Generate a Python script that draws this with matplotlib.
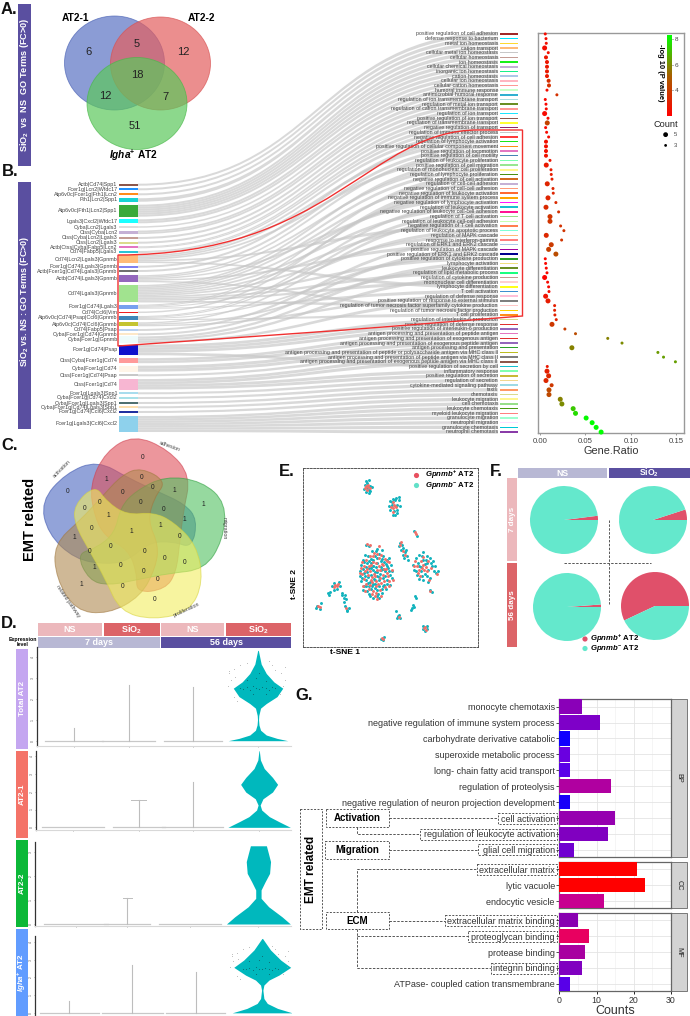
#Multi panel figure: venns, alluvial, dot plot, violins, t-SNE, pies, bars
import numpy as np
import matplotlib
matplotlib.use('Agg')
import matplotlib.pyplot as plt
from matplotlib.patches import PathPatch, Ellipse, Rectangle
from matplotlib.path import Path
from matplotlib.transforms import Affine2D
from matplotlib.colors import LinearSegmentedColormap

plt.rcParams['font.family'] = ['Liberation Sans', 'DejaVu Sans']
plt.rcParams['mathtext.fontset'] = 'custom'
plt.rcParams['mathtext.rm'] = 'Liberation Sans'
plt.rcParams['mathtext.it'] = 'Liberation Sans:italic'
plt.rcParams['mathtext.bf'] = 'Liberation Sans:bold'
plt.rcParams['mathtext.bfit'] = 'Liberation Sans:italic:bold'

W, H = 690, 1016
PURPLE = '#5a4fa0'
LILAC = '#b8b8d4'
PINK = '#ecb8bc'
CORAL = '#dc6468'

# ---- panel A
venn_a_counts = [6, 5, 12, 18, 12, 7, 51]

# ---- panel B left side: gene sets, their size on the stratum, colours
gene_sets = ['Actb|Cd74|Spp1', 'Fcer1g|Lcn2|Wfdc17', 'Atp6v0c|Fcer1g|Fth1|Lcn2', 'Fth1|Lcn2|Spp1',
             'Atp6v0c|Fth1|Lcn2|Spp1', 'Lgals3|Cxcl2|Wfdc17', 'Cyba|Lcn2|Lgals3', 'Ctss|Cyba|Lcn2',
             'Ctss|Cyba|Lcn2|Lgals3', 'Ctss|Lcn2|Lgals3', 'Actb|Ctss|Cyba|Fabp5|Lcn2', 'Cd74|Fabp5|Lgals3',
             'Cd74|Lcn2|Lgals3|Gpnmb', 'Fcer1g|Cd74|Lgals3|Gpnmb', 'Actb|Fcer1g|Cd74|Lgals3|Gpnmb',
             'Actb|Cd74|Lgals3|Gpnmb', 'Cd74|Lgals3|Gpnmb', 'Fcer1g|Cd74|Lgals3', 'Cd74|Ccl6|Vim',
             'Atp6v0c|Cd74|Psap|Ccl6|Gpnmb', 'Atp6v0c|Cd74|Ccl6|Gpnmb', 'Cd74|Fabp5|Psap',
             'Cyba|Fcer1g|Cd74|Gpnmb', 'Cyba|Fcer1g|Gpnmb', 'Fcer1g|Cd74|Psap', 'Ctss|Cyba|Fcer1g|Cd74',
             'Cyba|Fcer1g|Cd74', 'Ctss|Fcer1g|Cd74|Psap', 'Ctss|Fcer1g|Cd74', 'Fcer1g|Lgals3|Spp1',
             'Cyba|Fcer1g|Cd74|Cxcl2', 'Cyba|Fcer1g|Lgals3|Spp1', 'Cyba|Fcer1g|Cd74|Lgals3|Spp1',
             'Fcer1g|Cd74|Ccl6|Cxcl2', 'Fcer1g|Lgals3|Ccl6|Cxcl2']
gene_set_colors = ['#8c564b', '#1e90ff', '#ff8c1a', '#17d4d4', '#3aaa3a', '#1affff', '#dddddd', '#c5b0d5',
                   '#c49c94', '#dbdb8d', '#e377c2', '#2ac4d4', '#ffbb78', '#8080f0', '#707070', '#9467bd',
                   '#a1e38f', '#76a0f0', '#ee2020', '#3f86b8', '#c4c430', '#b6cff0', '#fde8c8', '#eefbfb',
                   '#1010cc', '#ff9a9a', '#fff5e8', '#c8c8c8', '#f7b6d2', '#a8dced', '#a8e0e8', '#507070',
                   '#fde0b0', '#2030a0', '#8ed1ec']
gene_set_y = [184.7, 189.3, 194.3, 200, 210.7, 221.3, 227, 232.3, 238, 242.7, 247.3, 252, 259, 266.7, 271,
              278.7, 293.7, 306.7, 312.3, 318, 324.3, 330, 334.3, 339.7, 350, 360.7, 368.7, 375.3, 384.3,
              393.3, 398, 403, 407.3, 412, 424]
gene_set_h = [2, 2, 2, 3.5, 12, 4, 1.5, 3.5, 2, 2, 2, 2, 8, 2, 2, 7, 17.5, 4, 1.5, 4, 4, 2, 2, 6.5, 10.5,
              5, 6, 2, 10.5, 2, 2, 2, 2, 2, 16]

# ---- panel B right side / dot plot
go_terms = ['positive regulation of cell adhesion', 'defense response to bacterium', 'metal ion homeostasis',
            'cation transport', 'cellular metal ion homeostasis', 'cellular homeostasis', 'ion homeostasis',
            'cellular chemical homeostasis', 'inorganic ion homeostasis', 'cation homeostasis',
            'cellular ion homeostasis', 'cellular cation homeostasis', 'humoral immune response',
            'antimicrobial humoral response', 'regulation of ion transmembrane transport',
            'regulation of metal ion transport', 'regulation of cation transmembrane transport',
            'regulation of ion transport', 'positive regulation of ion transport',
            'regulation of transmembrane transport', 'negative regulation of transport',
            'regulation of immune effector process', 'negative regulation of cell adhesion',
            'regulation of lymphocyte activation', 'positive regulation of cellular component movement',
            'positive regulation of locomotion', 'positive regulation of cell motility',
            'regulation of leukocyte proliferation', 'positive regulation of cell migration',
            'regulation of mononuclear cell proliferation', 'regulation of lymphocyte proliferation',
            'negative regulation of cell activation', 'regulation of cell-cell adhesion',
            'negative regulation of cell-cell adhesion', 'negative regulation of leukocyte activation',
            'negative regulation of immune system process', 'negative regulation of lymphocyte activation',
            'regulation of leukocyte activation', 'negative regulation of leukocyte cell-cell adhesion',
            'regulation of T cell activation', 'regulation of leukocyte cell-cell adhesion',
            'negative regulation of T cell activation', 'regulation of leukocyte apoptotic process',
            'regulation of MAPK cascade', 'response to interferon-gamma', 'regulation of ERK1 and ERK2 cascade',
            'positive regulation of MAPK cascade', 'positive regulation of ERK1 and ERK2 cascade',
            'positive regulation of cytokine production', 'lymphocyte activation', 'leukocyte differentiation',
            'regulation of lipid metabolic process', 'regulation of cytokine production',
            'mononuclear cell differentiation', 'lymphocyte differentiation', 'T cell activation',
            'regulation of defense response', 'positive regulation of response to external stimulus',
            'regulation of tumor necrosis factor superfamily cytokine production',
            'regulation of tumor necrosis factor production', 'T cell proliferation',
            'regulation of interleukin-6 production', 'positive regulation of defense response',
            'positive regulation of interleukin-6 production', 'antigen processing and presentation of peptide antigen',
            'antigen processing and presentation of exogenous antigen',
            'antigen processing and presentation of exogenous peptide antigen', 'antigen processing and presentation',
            'antigen processing and presentation of peptide or polysaccharide antigen via MHC class II',
            'antigen processing and presentation of peptide antigen via MHC class II',
            'antigen processing and presentation of exogenous peptide antigen via MHC class II',
            'positive regulation of secretion by cell', 'inflammatory response', 'positive regulation of secretion',
            'regulation of secretion', 'cytokine-mediated signaling pathway', 'taxis', 'chemotaxis',
            'leukocyte migration', 'cell chemotaxis', 'leukocyte chemotaxis', 'myeloid leukocyte migration',
            'granulocyte migration', 'neutrophil migration', 'granulocyte chemotaxis', 'neutrophil chemotaxis']
go_colors = ['#a02828', '#00e5ff', '#ffd92f', '#ffbb78', '#c8c8c8', '#c49c94', '#19f019', '#c5b0d5', '#19f08c',
             '#aec7e8', '#ffb6c1', '#ff9896', '#c8ffc8', '#30b0d0', '#a8dde0', '#6b8e23', '#ff9896', '#1ce6ff',
             '#8c564b', '#ffff33', '#8b2a6b', '#c8c8c8', '#ff3b3b', '#19e619', '#ff8c1a', '#e377c2', '#4682b4',
             '#7fffb0', '#98e690', '#fff68f', '#4a8f10', '#d2691e', '#c5b0d5', '#ff9a7a', '#ff6a33', '#ffa500',
             '#ff19ff', '#19c0d0', '#ff1493', '#98df8a', '#c8ffb0', '#ff7f50', '#7fffd4', '#ffbb78', '#ff7f7f',
             '#aec7e8', '#a000a0', '#000090', '#2ca02c', '#f0e080', '#6b8e23', '#19ff80', '#c49c94', '#ffd0d0',
             '#ffff19', '#3f8fd0', '#ffc0d8', '#7f7f7f', '#ffc8c8', '#ffd000', '#ff8c1a', '#dbdb8d', '#e03030',
             '#9467bd', '#e377c2', '#e03030', '#9467bd', '#2ca02c', '#bcbd22', '#7f7f7f', '#8c564b', '#17becf',
             '#7fffb0', '#c8b838', '#f0d890', '#9edae5', '#ff9966', '#dbdb8d', '#fff68f', '#98df8a', '#4a9a10',
             '#ff7f7f', '#a0ffd0', '#ffe0ff', '#00c8d8', '#8a3ca8']
#index of the gene set each GO term is fed from
go_source = [0, 1, 2, 3, 4, 4, 4, 4, 4, 4, 5, 5, 6, 7, 7, 8, 9, 10, 10, 11, 11,
             12, 13, 12, 14, 15, 12, 16, 15, 16, 17, 16, 18, 17, 16, 15, 19, 16, 19, 20, 16,
             12, 17, 16, 21, 15, 22, 19, 16, 23, 20, 16, 23, 16, 12, 17, 20, 23, 16, 15, 19,
             24, 24, 24, 25, 25, 26, 26, 27, 28, 28,
             24, 28, 28, 29, 30, 31, 32, 33, 34, 34, 34, 34, 34, 34, 34]
gene_ratio = [.0058, .0066, .0069, .0051, .0091, .0066, .0077, .0077, .0077, .0077, .0095, .0099, .0077, .0186,
              .0058, .0066, .0069, .0051, .0088, .0080, .0062, .0073, .0095, .0066, .0066, .0066, .0066, .0110,
              .0069, .0121, .0124, .0132, .0080, .0143, .0146, .0088, .0175, .0066, .0205, .0110, .0110, .0227,
              .0263, .0069, .0238, .0124, .0095, .0175, .0058, .0062, .0069, .0077, .0051, .0084, .0095, .0099,
              .0062, .0088, .0161, .0161, .0164, .0179, .0132, .0274, .0391, .0746, .0903, .0351, .1298, .1360,
              .1491, .0080, .0077, .0095, .0066, .0128, .0099, .0099, .0223, .0241, .0365, .0391, .0508, .0574,
              .0618, .0673]
go_count = [3, 3, 3, 5, 3, 4, 4, 4, 4, 4, 4, 4, 3, 3, 3, 3, 3, 5, 3, 5, 3, 3, 3, 4, 4, 4, 4, 3, 5, 3, 3, 3, 5, 3,
            3, 5, 3, 5, 3, 5, 5, 3, 3, 5, 3, 5, 5, 5, 3, 3, 3, 3, 5, 3, 3, 3, 5, 5, 3, 3, 3, 3, 5, 3, 3, 3, 3, 5,
            3, 3, 3, 3, 5, 5, 5, 4, 5, 5, 5, 5, 5, 5, 5, 5, 5, 5]
go_logp = [2.4, 2.4, 2.5, 2.4, 2.5, 2.7, 2.7, 2.8, 2.8, 2.8, 3.5, 3.6, 2.4, 3.6, 2.2, 2.2, 2.3, 2.3, 2.4, 4.2, 2.2,
           2.3, 2.4, 2.5, 2.5, 2.5, 2.6, 2.7, 2.8, 2.9, 2.9, 3.0, 3.2, 3.2, 3.2, 3.2, 3.4, 3.4, 3.6, 3.7, 3.7, 3.6,
           3.7, 3.3, 3.7, 3.9, 4.1, 4.5, 2.2, 2.2, 2.2, 2.3, 2.1, 2.3, 2.3, 2.4, 2.6, 2.9, 3.0, 3.1, 3.1, 3.2, 3.8,
           4.0, 4.5, 5.8, 6.0, 5.8, 6.3, 6.4, 6.4, 2.8, 3.0, 3.3, 3.3, 3.8, 4.4, 4.4, 5.8, 6.0, 7.2, 7.6, 8.2, 8.3,
           8.3, 8.4]

# ---- panel C
venn_c_labels = ['activation', 'adhesion', 'migration', 'proliferation', 'related pathway']
venn_c_colors = ['#4a66c0', '#e0505a', '#50c060', '#b08a50', '#f2ee60']
venn_c_edges = ['#3f57b0', '#d04050', '#30a040', '#a07840', '#d8d440']
venn_c_angles = [144, -144, -72, 72, 0]
venn_c_blob = [(285, 180), (320, 230), (380, 270), (460, 262), (520, 290), (590, 360), (610, 470), (570, 560),
               (460, 585), (360, 560), (315, 460), (270, 380), (225, 300), (222, 240)]
venn_c_counts = [0, 1, 0, 0, 0, 1, 1, 0, 0, 0, 0, 0, 1, 1, 0, 1, 1, 0, 1, 0, 0, 0, 0, 0, 1, 0, 0, 0, 1, 0, 0]
venn_c_spots = [(428, 97), (320, 163), (424, 157), (367, 201), (457, 188), (523, 196), (610, 240), (202, 200),
                (300, 232), (255, 252), (422, 233), (490, 253), (552, 284), (325, 272), (275, 310), (395, 320),
                (481, 301), (538, 334), (222, 338), (333, 365), (269, 379), (433, 380), (494, 399), (553, 411),
                (284, 427), (362, 422), (431, 439), (473, 464), (243, 477), (369, 484), (465, 523)]

# ---- panel D: expression level and half width of the violins, per row
violin_rows = ['Total AT2', 'AT2-1', 'AT2-2', r'$\mathbfit{Igha}^{\mathbf{+}}$ AT2']
violin_row_colors = ['#c4a6f0', '#f47368', '#0cb838', '#619cff']
violin_expr = [[0, .11, .27, .5, .75, 1, 1.2, 1.55, 1.77, 2.1, 2.5, 2.8, 3.2, 3.65, 4.3],
               [0, .32, .6, .97, 1.25, 1.6, 1.98, 2.41, 2.8, 3.3, 3.78, 4.3],
               [0, .3, .72, 1.07, 1.42, 1.76, 2.11, 2.6, 2.94, 3.26],
               [0, .25, .53, .81, 1.28, 1.57, 1.85, 2.13, 2.57, 2.98, 3.55, 4.2]]
violin_width = [[.47, .3, .13, .04, .015, .008, .012, .04, .13, .3, .39, .25, .13, .05, .005],
                [.49, .31, .16, .04, .016, .06, .21, .29, .21, .08, .02, .003],
                [.5, .37, .16, .042, .042, .105, .175, .19, .157, .125],
                [.47, .24, .08, .026, .01, .026, .105, .26, .445, .29, .13, .005]]
violin_spikes = [[.6, 2.65, 2.54], [0, 1.51, 2.56], [0, 1.07, 0], [.66, 2.7, 2.32]]
violin_caps = [[0, 0, 0], [0, .12, 0], [0, .07, 0], [0, 0, 0]]
violin_x = [[.58, 1.44, 2.45, 3.48], [.58, 1.61, 2.46, 3.5], [.64, 1.44, 2.42, 3.49], [.53, 1.52, 2.51, 3.55]]
violin_base = [[.46, .42, .46], [.49, .41, .48], [.5, .36, .49], [.46, .47, .46]]
dots_light = [(3.03, 3.3), (3.1, 3.4), (3.2, 3.6), (3.75, 3.35), (3.85, 3.2), (3.9, 2.9), (3.05, 2.9), (3.12, 3.05),
              (3.82, 2.2), (3.1, 2.1), (3.15, 1.9), (3.9, 3.5), (3.7, 3.6), (3.02, 3.2), (3.3, 3.7), (3.65, 3.8),
              (3.88, 2.6), (3.0, 2.6)]
dots_dark = [(3.2, 2.5), (3.25, 2.45), (3.3, 2.55), (3.35, 2.4), (3.4, 2.6), (3.45, 2.5), (3.5, 2.45), (3.55, 2.55),
             (3.6, 2.5), (3.65, 2.4), (3.7, 2.55), (3.75, 2.5), (3.3, 2.9), (3.45, 3.0), (3.6, 2.85), (3.5, 3.2),
             (3.4, 2.2), (3.6, 2.2)]

# ---- panel E: cells, in arbitrary t-SNE units
tsne_teal = [(212, 405), (218, 390), (209, 425), (225, 440), (214, 455), (222, 470), (232, 485), (240, 500), (250, 505),
             (262, 498), (275, 490), (288, 478), (300, 465), (305, 445), (298, 425), (303, 405), (292, 392), (280, 378),
             (268, 372), (255, 380), (243, 388), (232, 400), (238, 415), (250, 408), (262, 400), (274, 412), (284, 425),
             (270, 432), (255, 428), (242, 435), (232, 428), (228, 452), (240, 458), (252, 448), (266, 452), (278, 445),
             (290, 450), (282, 465), (268, 470), (255, 475), (244, 478), (262, 482), (236, 470), (220, 418), (246, 365),
             (262, 358), (275, 362), (228, 345), (236, 350), (290, 410), (300, 435), (258, 412), (248, 420), (272, 395),
             (283, 398), (210, 440), (218, 480), (238, 492), (268, 505), (225, 375), (296, 385), (262, 440), (250, 462),
             (276, 478), (235, 442), (244, 400),
             (222, 398), (229, 412), (216, 445), (223, 430), (235, 460), (246, 470), (256, 462), (264, 492), (280, 470),
             (292, 462), (286, 440), (294, 415), (306, 425), (288, 402), (276, 388), (262, 385), (250, 392), (238, 395),
             (234, 378), (258, 365), (272, 420), (262, 428), (248, 410), (254, 452), (242, 415), (268, 442), (280, 418),
             (228, 470),
             (225, 165), (232, 160), (240, 168), (222, 178), (230, 175), (238, 180), (245, 172), (228, 188), (236, 190),
             (237, 150), (228, 155), (233, 168), (241, 183),
             (300, 215), (308, 208), (318, 205), (328, 212), (296, 228), (305, 225), (322, 225), (330, 230), (300, 240),
             (312, 245), (320, 240), (308, 255), (316, 255), (326, 202), (306, 218), (314, 212), (322, 250),
             (372, 305), (380, 318),
             (330, 340), (336, 345), (328, 350), (340, 355), (332, 362), (345, 368), (338, 375), (350, 378), (355, 392),
             (342, 385), (348, 362),
             (378, 385), (388, 375), (398, 368), (410, 378), (420, 385), (430, 395), (425, 410), (432, 425), (440, 430),
             (415, 420), (405, 432), (395, 440), (382, 435), (372, 420), (370, 405), (385, 400), (400, 392), (412, 400),
             (420, 445), (445, 425), (415, 458), (392, 425), (420, 480), (425, 487),
             (386, 410), (394, 412), (404, 402), (378, 425), (396, 380), (408, 392), (422, 400), (435, 410), (412, 440),
             (400, 450), (388, 448),
             (125, 470), (132, 460), (145, 458), (150, 470), (130, 480), (140, 478), (112, 490), (120, 488), (116, 495),
             (155, 495), (165, 497), (160, 505), (168, 508), (160, 518), (165, 530), (172, 540), (178, 535), (170, 545),
             (155, 490),
             (80, 530), (92, 520), (88, 538), (78, 535),
             (325, 560), (322, 565), (330, 565), (318, 543), (367, 535), (362, 540), (372, 532), (375, 500), (378, 505),
             (370, 525), (326, 555),
             (400, 590), (410, 598), (405, 605), (398, 598), (412, 590), (272, 628), (282, 622), (278, 632)]
tsne_red = [(215, 398), (222, 410), (216, 432), (228, 462), (236, 478), (246, 492), (258, 490), (270, 482), (284, 472),
            (296, 455), (294, 440), (288, 418), (280, 405), (268, 385), (252, 370), (240, 378), (228, 392), (240, 425),
            (256, 438), (270, 420), (262, 420), (250, 398), (278, 435), (264, 462), (250, 485), (232, 342), (240, 346),
            (268, 350), (272, 375), (298, 398), (308, 450), (222, 448), (244, 450), (258, 455), (272, 460), (284, 388),
            (212, 415), (262, 508), (226, 485), (282, 455), (236, 408), (252, 432), (290, 430), (266, 408), (246, 442),
            (226, 425), (234, 435), (246, 458), (258, 470), (270, 445), (282, 418), (258, 400), (242, 405), (232, 418),
            (290, 395), (220, 470), (274, 500), (296, 470), (262, 372), (248, 378), (210, 430), (306, 420), (254, 498),
            (240, 465), (276, 402),
            (228, 170), (235, 172), (232, 182), (240, 175), (226, 175), (233, 165),
            (310, 218), (315, 228), (308, 235), (318, 233), (304, 232), (312, 225), (310, 248),
            (376, 308), (378, 312), (334, 338), (338, 365), (345, 375), (330, 345),
            (380, 410), (388, 420), (398, 405), (408, 412), (392, 395), (402, 420), (385, 430), (375, 395), (415, 395),
            (442, 432), (416, 452), (420, 483), (372, 410), (395, 415), (410, 425), (400, 382), (424, 415), (390, 440),
            (135, 465), (140, 470), (132, 472), (142, 462), (168, 535), (84, 530), (88, 533), (326, 562),
            (405, 592), (408, 600), (402, 595), (276, 625), (280, 628)]

# ---- panel F: share of Gpnmb+ cells
pie_shares = [.02, .05, .012, .57]

# ---- panel G
bp_terms = ['monocyte chemotaxis', 'negative regulation of immune system process', 'carbohydrate derivative catabolic',
            'superoxide metabolic process', 'long- chain fatty acid transport', 'regulation of proteolysis',
            'negative regulation of neuron projection development', 'cell activation',
            'regulation of leukocyte activation', 'glial cell migration']
bp_counts = [6, 11, 3, 3, 3, 14, 3, 15, 13, 4]
bp_colors = ['#8a00b8', '#7e00c8', '#1000ff', '#6a00e0', '#5a00e8', '#b000a0', '#1800f8', '#9600b0', '#8000c0', '#7000d0']
cc_terms = ['extracellular matrix', 'lytic vacuole', 'endocytic vesicle']
cc_counts = [21, 23, 12]
cc_colors = ['#ff0000', '#ff0000', '#c80090']
mf_terms = ['extracellular matrix binding', 'proteoglycan binding', 'protease binding', 'integrin binding',
            'ATPase- coupled cation transmembrane']
mf_counts = [5, 8, 7, 6, 3]
mf_colors = ['#8800b0', '#e80060', '#a800a0', '#8000c0', '#5800e8']


def px_axes(x0, y0, x1, y1):
    '''axes placed by pixel box, y measured from the top of the figure'''
    return fig.add_axes([x0/W, 1-y1/H, (x1-x0)/W, (y1-y0)/H])


def strip(x0, y0, x1, y1, color, label=None, rotation=0, size=7.5, **kw):
    '''coloured header/side strip with white bold text'''
    canvas.add_patch(Rectangle((x0, y0), x1-x0, y1-y0, fc=color, ec='none'))
    if label:
        canvas.text((x0+x1)/2, (y0+y1)/2, label, color='white', fontweight='bold', rotation=rotation,
                    ha='center', va='center', fontsize=size, **kw)


def smooth_blob(points):
    '''closed quadratic spline through the midpoints of a control polygon'''
    pts = np.array(points, dtype=float)
    mids = (pts + np.roll(pts, -1, axis=0))/2
    verts = [mids[-1]]
    codes = [Path.MOVETO]
    for p, m in zip(pts, mids):
        verts += [p, m]
        codes += [Path.CURVE3, Path.CURVE3]
    return Path(verts, codes)


def dashed_box(x0, y0, x1, y1):
    canvas.add_patch(Rectangle((x0, y0), x1-x0, y1-y0, fc='none', ec='#555555', lw=.7, ls=(0, (2, 1.5))))


def dashed_line(xs, ys):
    canvas.plot(xs, ys, color='#555555', lw=.7, ls=(0, (2.5, 1.5)))


fig = plt.figure(figsize=(W/100, H/100), dpi=100)
canvas = fig.add_axes([0, 0, 1, 1])
canvas.set_xlim(0, W)
canvas.set_ylim(H, 0)
canvas.axis('off')

#panel letters
for letter, x, y in [('A.', 1, 9), ('B.', 2, 172), ('C.', 1, 445), ('D.', 1, 624), ('E.', 279, 471), ('F.', 490, 471), ('G.', 295, 695)]:
    canvas.text(x, y, letter, fontsize=12, fontweight='bold', va='center', color='#111111')

# ---- A
strip(18, 4, 31, 166, PURPLE, r'$\mathbf{SiO_2}$  vs  NS  GO Terms (FC>0)', rotation=90, size=6.6)
for (cx, cy, ry), color, edge in zip([(114.5, 63, 47), (160.5, 63.5, 46.5), (137, 103.5, 46)],
                                     ['#5a72c4', '#e35f5f', '#5cc85c'], ['#4a62b4', '#d85050', '#48b848']):
    canvas.add_patch(Ellipse((cx, cy), 100, 2*ry, fc=color, alpha=.7, ec=edge, lw=.6))
for n, (x, y) in zip(venn_a_counts, [(88, 52), (137, 44), (183, 52), (137, 75), (105, 96), (165, 97), (135, 126)]):
    canvas.text(x, y, str(n), fontsize=8, ha='center', va='center', color='#222222')
canvas.text(75, 18, 'AT2-1', fontsize=7.3, fontweight='bold', ha='center', va='center')
canvas.text(202, 18, 'AT2-2', fontsize=7.3, fontweight='bold', ha='center', va='center')
canvas.text(133, 155, r'$\mathbfit{Igha}^{\mathbf{+}}$ AT2', fontsize=7.3, fontweight='bold', ha='center', va='center')

# ---- B
strip(18, 182, 31, 429, PURPLE)
canvas.text(24.5, 301, r'$\mathbf{SiO_2}$ vs. NS : GO Terms (FC>0)', rotation=90, fontsize=6.4, fontweight='bold',
            color='white', ha='center', va='center')

term_y = np.linspace(34, 432, len(go_terms))
used = [0.0]*len(gene_sets)
counts = [go_source.count(i) for i in range(len(gene_sets))]
for i, src in enumerate(go_source):
    step = gene_set_h[src]/max(counts[src], 1)
    top = gene_set_y[src] - gene_set_h[src]/2 + used[src]
    used[src] += step
    yr = term_y[i]
    verts = [(138, top), (318, top), (318, yr-1.7), (498, yr-1.7),
             (498, yr+1.7), (318, yr+1.7), (318, top+step), (138, top+step), (138, top)]
    codes = [Path.MOVETO, Path.CURVE4, Path.CURVE4, Path.CURVE4, Path.LINETO,
             Path.CURVE4, Path.CURVE4, Path.CURVE4, Path.CLOSEPOLY]
    canvas.add_patch(PathPatch(Path(verts, codes), fc='#c8c8c8', ec='none', alpha=.68))

for name, y, h, color in zip(gene_sets, gene_set_y, gene_set_h, gene_set_colors):
    canvas.add_patch(Rectangle((119, y-h/2), 19, h, fc=color, ec='none'))
    canvas.text(117.5, y, name, fontsize=3.9, ha='right', va='center', color='#444444')
for name, y, color in zip(go_terms, term_y, go_colors):
    canvas.add_patch(Rectangle((500, y-.75), 18, 1.5, fc=color, ec='none'))
    canvas.text(498, y, name, fontsize=3.8, ha='right', va='center', color='#444444')

#red box around the EMT related terms
box_verts = [(118, 255), (330, 255), (370, 130), (478, 130), (522.5, 130), (522.5, 316),
             (345, 330), (118, 346), (118, 255)]
box_codes = [Path.MOVETO, Path.CURVE4, Path.CURVE4, Path.CURVE4, Path.LINETO, Path.LINETO,
             Path.LINETO, Path.LINETO, Path.CLOSEPOLY]
canvas.add_patch(PathPatch(Path(box_verts, box_codes), fc='none', ec='#f03030', lw=1, zorder=5))

# dot plot
dot_ax = px_axes(538, 33, 683.5, 433)
red_green = LinearSegmentedColormap.from_list('redgreen', ['#ff0000', '#a86000', '#00ff00'])
dots = dot_ax.scatter(gene_ratio, np.arange(1, len(go_terms)+1), s=(np.array(go_count)*.72)**2, c=go_logp,
                      cmap=red_green, vmin=2, vmax=8.3, linewidths=0, clip_on=False, zorder=3)
dot_ax.set_xlim(-.0022, .158)
dot_ax.set_ylim(86.2, .8)
dot_ax.set_yticks([])
dot_ax.set_xticks([0, .05, .10, .15])
dot_ax.set_xticklabels(['0.00', '0.05', '0.10', '0.15'], fontsize=5.6, color='#444444')
dot_ax.tick_params(axis='x', length=1.5, width=.6, color='#888888', pad=2)
dot_ax.set_xlabel('Gene.Ratio', fontsize=7.8, color='#333333', labelpad=1)
for side in dot_ax.spines.values():
    side.set_color('#999999')
    side.set_linewidth(1)

cbar_ax = px_axes(667, 35, 672, 116)
cb = fig.colorbar(dots, cax=cbar_ax)
cb.set_ticks([4, 6, 8])
cb.ax.tick_params(labelsize=4.6, length=1, width=.4, pad=1, labelcolor='#444444')
cb.outline.set_visible(False)
dot_ax.text(.84, .9, '-log 10 (P value)', transform=dot_ax.transAxes, rotation=270, fontsize=5.4,
            fontweight='bold', ha='center', va='center')
dot_ax.text(.88, .77, 'Count', transform=dot_ax.transAxes, fontsize=6.6, ha='center', va='center', color='#222222')
dot_ax.scatter([.1383, .1383], [22.5, 24.8], s=[12, 4], color='black', linewidths=0, zorder=3)
dot_ax.text(.1475, 22.5, '5', fontsize=4.2, va='center', color='#444444')
dot_ax.text(.1475, 24.8, '3', fontsize=4.2, va='center', color='#444444')

# ---- C
to_canvas = Affine2D().scale(1/3).translate(0, 425)
for angle, face, edge in zip(venn_c_angles, venn_c_colors, venn_c_edges):
    spin = Affine2D().rotate_deg_around(400, 322, angle)
    canvas.add_patch(PathPatch(smooth_blob(venn_c_blob), fc=face, ec=edge, lw=.7, alpha=.6,
                               transform=spin + to_canvas + canvas.transData))
for n, (x, y) in zip(venn_c_counts, venn_c_spots):
    canvas.text(x/3, 425+y/3, str(n), fontsize=4.8, ha='center', va='center', color='#222222')
for name, x, y, rot in zip(venn_c_labels, [62, 170, 224, 186, 68], [469, 446, 528, 610, 601], [45, -20, -90, 25, -55]):
    canvas.text(x, y, name, fontsize=3.9, rotation=rot, ha='center', va='center', color='#444444')
canvas.text(30, 519, 'EMT related', fontsize=10.5, fontweight='bold', rotation=90, ha='center', va='center')

# ---- D
for x0, x1, label, color in [(38, 102, 'NS', PINK), (103.5, 159.5, r'$\mathbf{SiO_2}$', CORAL),
                             (160.5, 224, 'NS', PINK), (225.5, 291, r'$\mathbf{SiO_2}$', CORAL)]:
    strip(x0, 623, x1, 635.5, color, label, size=6.5)
strip(38, 636.7, 160, 648, LILAC, '7 days', size=6.5)
strip(161, 636.7, 291, 648, PURPLE, '56 days', size=6.5)
canvas.text(23, 642, 'Expression\nlevel', fontsize=3.8, fontweight='bold', ha='center', va='center', linespacing=1.2)

row_px = [(37.3, 646.7, 745.7), (36, 750.7, 830), (35.3, 841.7, 926), (35.3, 936, 1015.5)]
row_ylim = [(-.238, 4.476), (-.15, 4.3), (-.083, 3.43), (-.15, 4.34)]
row_ticks = [5, 5, 4, 5]
strip_px = [(649, 749), (751, 838), (840, 927), (929, 1016)]
for r, name in enumerate(violin_rows):
    x0, y0, y1 = row_px[r]
    ax = px_axes(x0, y0, 291, y1)
    centres = violin_x[r]
    for k in range(3):
        ax.plot([centres[k]-violin_base[r][k], centres[k]+violin_base[r][k]], [0, 0], color='#c8c8c8', lw=.9)
        if violin_spikes[r][k] > 0:
            ax.plot([centres[k], centres[k]], [0, violin_spikes[r][k]], color='#bdbdbd', lw=.8)
        if violin_caps[r][k] > 0:
            ax.plot([centres[k]-violin_caps[r][k], centres[k]+violin_caps[r][k]],
                    [violin_spikes[r][k]]*2, color='#bdbdbd', lw=.7)
    expr = np.array(violin_expr[r])
    half = np.array(violin_width[r])
    ax.fill_betweenx(expr, centres[3]-half, centres[3]+half, color='#00b8bd', lw=0)
    if r in (0, 3):
        shift = 0 if r == 0 else .05
        ax.scatter([p[0]+shift for p in dots_light], [p[1] for p in dots_light], s=.5, color='#999999', alpha=.5, linewidths=0)
        ax.scatter([p[0]+shift for p in dots_dark], [p[1] for p in dots_dark], s=.6, color='#0a6a70', linewidths=0)
    ax.set_xlim(0, 4)
    ax.set_ylim(*row_ylim[r])
    ax.set_xticks(centres)
    ax.set_xticklabels([])
    ax.set_yticks(range(row_ticks[r]))
    ax.set_yticklabels([str(t) for t in range(row_ticks[r])], fontsize=2.4, rotation=90, va='center', color='#555555')
    ax.tick_params(axis='both', length=1, width=.4, pad=.5, color='#666666')
    ax.patch.set_alpha(0)
    for s in ('top', 'right'):
        ax.spines[s].set_visible(False)
    ax.spines['left'].set_linewidth(.9)
    ax.spines['left'].set_color('#333333')
    ax.spines['bottom'].set_color('#d8d8d8')
    strip(16, strip_px[r][0], 28, strip_px[r][1], violin_row_colors[r], name, rotation=90, size=5.8)

# ---- E
tsne_ax = px_axes(303, 468, 478, 647)
tsne_ax.scatter(*zip(*tsne_teal), s=4.5, color='#12b3bd', linewidths=0)
tsne_ax.scatter(*zip(*tsne_red), s=4.5, color='#f0716a', linewidths=0)
tsne_ax.set_xlim(38, 565)
tsne_ax.set_ylim(652, 115)
tsne_ax.set_xticks([])
tsne_ax.set_yticks([])
for side in tsne_ax.spines.values():
    side.set_linestyle((0, (2, 1.5)))
    side.set_linewidth(.7)
    side.set_color('#555555')
tsne_ax.scatter([378], [137], s=14, color='#e8505f', linewidths=0)
tsne_ax.scatter([378], [167], s=14, color='#62e0c8', linewidths=0)
tsne_ax.text(406, 137, r'$\mathbfit{Gpnmb}^{\mathbf{+}}$ AT2', fontsize=5.6, fontweight='bold', va='center')
tsne_ax.text(406, 167, r'$\mathbfit{Gpnmb}^{\mathbf{-}}$ AT2', fontsize=5.6, fontweight='bold', va='center')
canvas.text(345, 653, 't-SNE 1', fontsize=6, fontweight='bold', ha='center', va='center')
canvas.text(295, 584, 't-SNE 2', fontsize=6, fontweight='bold', rotation=90, ha='center', va='center')

# ---- F
strip(518, 468, 607, 478, LILAC, 'NS', size=6.2)
strip(609, 468, 690, 478, PURPLE, r'$\mathbf{SiO_2}$', size=6.2)
strip(507, 478, 517, 561, '#ecb8bc', '7 days', rotation=90, size=5.8)
strip(507, 563, 517, 647, CORAL, '56 days', rotation=90, size=5.8)
for share, (cx, cy) in zip(pie_shares, [(564, 520), (653, 520), (567, 607), (655, 606)]):
    pie_ax = px_axes(cx-34, cy-34, cx+34, cy+34)
    pie_ax.pie([share, 1-share], colors=['#e0506a', '#64e8cc'], startangle=0, counterclock=True, radius=1)
    pie_ax.set_xlim(-1, 1)
    pie_ax.set_ylim(-1, 1)
    pie_ax.patch.set_alpha(0)
dashed_line([564, 651], [562.5, 562.5])
dashed_line([609, 609], [520, 604])
canvas.scatter([585, 585], [639, 648.5], s=14, color=['#e0506a', '#64e8cc'], linewidths=0, zorder=6)
canvas.text(590, 639, r'$\mathbfit{Gpnmb}^{\mathbf{+}}$ AT2', fontsize=5.6, fontweight='bold', va='center', zorder=6)
canvas.text(590, 648.5, r'$\mathbfit{Gpnmb}^{\mathbf{-}}$ AT2', fontsize=5.6, fontweight='bold', va='center', zorder=6)

# ---- G
facets = [(bp_terms, bp_counts, bp_colors, 699.3, 856.7, 'BP'), (cc_terms, cc_counts, cc_colors, 862, 908, 'CC'),
          (mf_terms, mf_counts, mf_colors, 913, 990.7, 'MF')]
for terms, values, colors, top, bottom, tag in facets:
    ax = px_axes(559.3, top, 671, bottom)
    pos = np.arange(1, len(terms)+1)
    ax.barh(pos, values, height=.9, color=colors, zorder=3)
    ax.set_xlim(0, 30)
    ax.set_ylim(len(terms)+.43, .54)
    ax.set_xticks([0, 10, 20, 30])
    ax.set_xticks([5, 15, 25], minor=True)
    ax.set_yticks(pos)
    ax.set_yticklabels(terms, fontsize=6.5, color='#333333')
    ax.grid(True, which='major', color='#e4e4e4', lw=.6, zorder=0)
    ax.grid(True, which='minor', axis='x', color='#eeeeee', lw=.4, zorder=0)
    ax.tick_params(axis='y', length=2, width=.6, pad=1.2, color='#333333')
    ax.tick_params(axis='x', which='minor', length=0)
    if tag == 'MF':
        ax.tick_params(axis='x', length=2, width=.6, pad=1.5, labelsize=6.3, labelcolor='#333333')
        ax.set_xlabel('Counts', fontsize=9, color='#333333', labelpad=0)
    else:
        ax.tick_params(axis='x', length=0, labelbottom=False)
    for side in ax.spines.values():
        side.set_color('#666666')
        side.set_linewidth(.9)
    canvas.add_patch(Rectangle((671, top), 15.7, bottom-top, fc='#d3d3d3', ec='#666666', lw=.6))
    canvas.text(678.8, (top+bottom)/2, tag, fontsize=5.2, rotation=270, ha='center', va='center', color='#222222')

#dashed annotation boxes, zoom pixels were x=295+z/3, y=660+z/3
def gx(z):
    return 295 + z/3


def gy(z):
    return 660 + z/3


dashed_box(gx(15), gy(447), gx(80), gy(808))
canvas.text(gx(47), gy(628), 'EMT related', fontsize=8.6, fontweight='bold', rotation=90, ha='center', va='center')
for text, z0, z1, z2, z3 in [('Activation', 92, 447, 281, 501), ('Migration', 90, 543, 281, 597), ('ECM', 92, 757, 281, 808)]:
    dashed_box(gx(z0), gy(z1), gx(z2), gy(z3))
    canvas.text(gx((z0+z2)/2), gy((z1+z3)/2), text, fontsize=7, fontweight='bold', ha='center', va='center')
for z0, z1, z3 in [(610, 458, 491), (375, 507, 540), (550, 553, 586), (545, 611, 644), (450, 765, 798), (518, 813, 846), (588, 908, 941)]:
    dashed_box(gx(z0), gy(z1), gx(785), gy(z3))
dashed_line([gx(281), gx(610)], [gy(474)]*2)
dashed_line([gx(187), gx(187), gx(375)], [gy(501), gy(523), gy(523)])
dashed_line([gx(281), gx(550)], [gy(570)]*2)
dashed_line([gx(187), gx(187), gx(545)], [gy(757), gy(627), gy(627)])
dashed_line([gx(281), gx(450)], [gy(782)]*2)
dashed_line([gx(187), gx(187), gx(588)], [gy(808), gy(925), gy(925)])
dashed_line([gx(187), gx(518)], [gy(829)]*2)

canvas.set_xlim(0, W)
canvas.set_ylim(H, 0)
fig.savefig('out.png', dpi=100)
